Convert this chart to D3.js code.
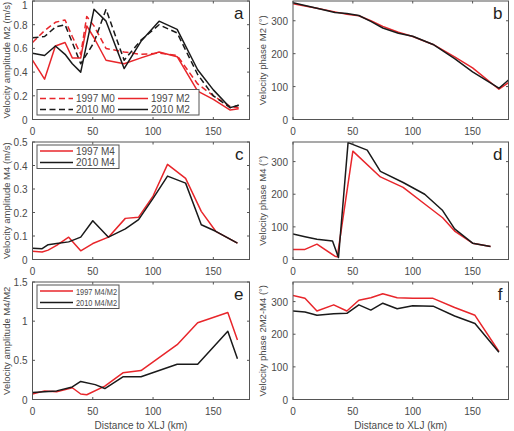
<!DOCTYPE html>
<html>
<head>
<meta charset="utf-8">
<script src="https://cdn.jsdelivr.net/npm/d3@7"></script>
<style>
  body { margin: 0; background: #fff; }
  svg { display: block; font-family: "Liberation Sans", Arial, sans-serif; }
</style>
</head>
<body>
<div id="chart"></div>
<script>
// Six-panel tidal velocity figure (a-f), MATLAB-like styling

// ---- data (distance km, value) ----
const a_M0_1997 = [[0,0.65],[10,0.75],[19,0.82],[27,0.84],[33,0.70],[40,0.55],[45,0.87],[51,0.79],[61,0.60],[76,0.57],[90,0.55],[105,0.56],[120,0.54],[137,0.30],[150,0.20],[164,0.11],[171,0.10]];
const a_M2_1997 = [[0,0.50],[10,0.34],[19,0.62],[27,0.65],[33,0.52],[40,0.52],[45,0.79],[51,0.69],[61,0.50],[76,0.47],[90,0.52],[105,0.57],[120,0.53],[137,0.24],[150,0.17],[164,0.08],[171,0.09]];
const a_M0_2010 = [[0,0.69],[10,0.70],[19,0.78],[27,0.80],[33,0.65],[40,0.47],[51,0.65],[61,0.93],[76,0.50],[90,0.67],[105,0.80],[120,0.73],[137,0.38],[150,0.20],[164,0.10],[171,0.12]];
const a_M2_2010 = [[0,0.56],[10,0.54],[19,0.62],[27,0.55],[33,0.47],[40,0.40],[51,0.93],[61,0.83],[76,0.43],[90,0.66],[105,0.83],[120,0.76],[137,0.42],[150,0.25],[164,0.10],[171,0.12]];

const b_1997 = [[0,352],[20,338],[35,327],[45,320],[55,315],[65,300],[75,283],[88,265],[100,252],[117,228],[135,190],[150,157],[172,92],[180,112]];
const b_2010 = [[0,355],[20,338],[35,325],[45,322],[55,316],[65,298],[75,278],[88,262],[100,253],[117,228],[135,185],[150,145],[172,95],[180,120]];

const c_1997 = [[0,0.035],[8,0.032],[13,0.04],[20,0.06],[30,0.095],[40,0.037],[50,0.068],[63,0.095],[77,0.175],[88,0.18],[100,0.27],[112,0.405],[127,0.345],[140,0.205],[152,0.12],[170,0.07]];
const c_2010 = [[0,0.048],[8,0.046],[13,0.063],[20,0.068],[30,0.075],[40,0.095],[50,0.165],[63,0.095],[77,0.13],[88,0.17],[100,0.26],[112,0.355],[127,0.325],[140,0.148],[152,0.12],[170,0.07]];

const d_1997 = [[0,31],[10,31],[20,47],[35,10],[37,8],[50,332],[73,253],[92,221],[110,170],[125,128],[135,87],[150,50],[165,40]];
const d_2010 = [[0,78],[10,70],[20,62],[33,57],[38,6],[46,358],[62,335],[73,270],[92,236],[110,200],[125,150],[135,94],[150,50],[165,40]];

const e_1997 = [[0,0.07],[10,0.11],[20,0.10],[33,0.15],[40,0.07],[45,0.06],[60,0.17],[75,0.34],[90,0.37],[120,0.70],[137,0.98],[162,1.11],[170,0.76]];
const e_2010 = [[0,0.09],[10,0.10],[20,0.11],[33,0.16],[40,0.23],[52,0.19],[60,0.14],[75,0.29],[90,0.29],[120,0.45],[137,0.45],[162,0.87],[170,0.52]];

const f_1997 = [[0,319],[10,310],[20,271],[34,290],[45,271],[55,304],[65,312],[75,324],[87,312],[100,310],[117,310],[135,282],[152,258],[172,147]];
const f_2010 = [[0,271],[10,268],[20,258],[34,263],[45,264],[55,290],[65,274],[75,295],[87,278],[100,287],[117,286],[135,256],[152,233],[172,145]];

const xTicks = [0, 50, 100, 150];
const RED = '#e8262b', BLACK = '#1a1a1a';
const AXIS = '#555', TXT = '#4a4a4a';

const W = 514, H = 431;
const svg = d3.select('#chart').append('svg').attr('width', W).attr('height', H);

const cols = [{ x0: 32.5, x1: 249.5 }, { x0: 293, x1: 508.5 }];
const rows = [{ y0: 1, y1: 119.5 }, { y0: 142, y1: 259.5 }, { y0: 282, y1: 399.5 }];

const panels = [
  { col: 0, row: 0, letter: 'a', ymax: 1, yTicks: [0, 0.2, 0.4, 0.6, 0.8, 1], ylabel: 'Velocity amplitude M2 (m/s)',
    series: [
      { d: a_M0_1997, c: RED, dash: '6,3.5' }, { d: a_M0_2010, c: BLACK, dash: '6,3.5' },
      { d: a_M2_1997, c: RED }, { d: a_M2_2010, c: BLACK }
    ] },
  { col: 1, row: 0, letter: 'b', ymax: 360, yTicks: [0, 100, 200, 300], ylabel: 'Velocity phase M2 (°)',
    series: [{ d: b_1997, c: RED }, { d: b_2010, c: BLACK }] },
  { col: 0, row: 1, letter: 'c', ymax: 0.5, yTicks: [0, 0.1, 0.2, 0.3, 0.4, 0.5], ylabel: 'Velocity amplitude M4 (m/s)',
    series: [{ d: c_1997, c: RED }, { d: c_2010, c: BLACK }] },
  { col: 1, row: 1, letter: 'd', ymax: 360, yTicks: [0, 100, 200, 300], ylabel: 'Velocity phase M4 (°)',
    series: [{ d: d_1997, c: RED }, { d: d_2010, c: BLACK }] },
  { col: 0, row: 2, letter: 'e', ymax: 1.5, yTicks: [0, 0.5, 1, 1.5], ylabel: 'Velocity amplitude M4/M2', xlabel: true,
    series: [{ d: e_1997, c: RED }, { d: e_2010, c: BLACK }] },
  { col: 1, row: 2, letter: 'f', ymax: 360, yTicks: [0, 100, 200, 300], ylabel: 'Velocity phase 2M2-M4 (°)', xlabel: true,
    series: [{ d: f_1997, c: RED }, { d: f_2010, c: BLACK }] }
];

panels.forEach((p, i) => {
  const c = cols[p.col], r = rows[p.row];
  const x = d3.scaleLinear().domain([0, 180]).range([c.x0, c.x1]);
  const y = d3.scaleLinear().domain([0, p.ymax]).range([r.y1, r.y0]);
  const g = svg.append('g');

  const clipId = 'clip' + i;
  svg.append('clipPath').attr('id', clipId).append('rect')
    .attr('x', c.x0).attr('y', r.y0).attr('width', c.x1 - c.x0).attr('height', r.y1 - r.y0);

  const line = d3.line().x(d => x(d[0])).y(d => y(d[1]));
  const lg = g.append('g').attr('clip-path', `url(#${clipId})`);
  p.series.forEach(s => {
    lg.append('path').attr('d', line(s.d))
      .attr('fill', 'none').attr('stroke', s.c).attr('stroke-width', 1.5)
      .attr('stroke-dasharray', s.dash || null).attr('stroke-linejoin', 'round');
  });

  // box + inward ticks on all four sides
  g.append('rect').attr('x', c.x0).attr('y', r.y0).attr('width', c.x1 - c.x0).attr('height', r.y1 - r.y0)
    .attr('fill', 'none').attr('stroke', AXIS).attr('stroke-width', 1);

  const tl = 2.5;
  xTicks.forEach(t => {
    g.append('line').attr('x1', x(t)).attr('x2', x(t)).attr('y1', r.y1).attr('y2', r.y1 - tl).attr('stroke', AXIS);
    g.append('line').attr('x1', x(t)).attr('x2', x(t)).attr('y1', r.y0).attr('y2', r.y0 + tl).attr('stroke', AXIS);
    g.append('text').attr('x', x(t)).attr('y', r.y1 + 15)
      .attr('text-anchor', 'middle').attr('font-size', 10).attr('fill', TXT).text(t);
  });
  p.yTicks.forEach(t => {
    g.append('line').attr('x1', c.x0).attr('x2', c.x0 + tl).attr('y1', y(t)).attr('y2', y(t)).attr('stroke', AXIS);
    g.append('line').attr('x1', c.x1).attr('x2', c.x1 - tl).attr('y1', y(t)).attr('y2', y(t)).attr('stroke', AXIS);
    g.append('text').attr('x', c.x0 - 5).attr('y', Math.max(y(t) + 4, 8.5))
      .attr('text-anchor', 'end').attr('font-size', 10).attr('fill', TXT).text(t);
  });

  // y label
  const ly = (r.y0 + r.y1) / 2;
  const lx = p.col === 0 ? 10 : 266;
  g.append('text').attr('transform', `translate(${lx},${ly}) rotate(-90)`)
    .attr('text-anchor', 'middle').attr('font-size', 9.5).attr('fill', TXT).text(p.ylabel);

  if (p.xlabel) {
    g.append('text').attr('x', (c.x0 + c.x1) / 2).attr('y', r.y1 + 29)
      .attr('text-anchor', 'middle').attr('font-size', 10).attr('fill', TXT).text('Distance to XLJ (km)');
  }

  // panel letter
  g.append('text').attr('x', c.x1 - 6).attr('y', r.y0 + 18)
    .attr('text-anchor', 'end').attr('font-size', 17).attr('fill', '#222').text(p.letter);
});

// ---- legends ----
function legendBox(x0, y0, w, h) {
  svg.append('rect').attr('x', x0).attr('y', y0).attr('width', w).attr('height', h)
    .attr('fill', '#fff').attr('stroke', AXIS).attr('stroke-width', 1);
}
function legendItem(x0, yy, color, dash, label, lineLen, fit) {
  svg.append('line').attr('x1', x0).attr('x2', x0 + lineLen).attr('y1', yy).attr('y2', yy)
    .attr('stroke', color).attr('stroke-width', 1.5).attr('stroke-dasharray', dash || null);
  const t = svg.append('text').attr('x', x0 + lineLen + 3).attr('y', yy + 3.5)
    .attr('font-size', fit ? 9 : 10).attr('fill', TXT).text(label);
  if (fit) t.attr('textLength', fit).attr('lengthAdjust', 'spacingAndGlyphs');
}

const legA = [
  { label: '1997 M0', c: RED, dash: '6,3.5', col: 0, row: 0 },
  { label: '1997 M2', c: RED, col: 1, row: 0 },
  { label: '2010 M0', c: BLACK, dash: '6,3.5', col: 0, row: 1 },
  { label: '2010 M2', c: BLACK, col: 1, row: 1 }
];
legendBox(37, 89.5, 162, 25.5);
legA.forEach(l => legendItem(l.col === 0 ? 40 : 118, l.row === 0 ? 98.5 : 109.5, l.c, l.dash, l.label, l.col === 0 ? 33 : 30));

const legC = [{ label: '1997 M4', c: RED }, { label: '2010 M4', c: BLACK }];
legendBox(37, 145, 82, 23.5);
legC.forEach((l, i) => legendItem(40, 151 + i * 11.5, l.c, null, l.label, 33));

const legE = [{ label: '1997 M4/M2', c: RED }, { label: '2010 M4/M2', c: BLACK }];
legendBox(37, 285, 82, 23.5);
legE.forEach((l, i) => legendItem(40, 291 + i * 11.5, l.c, null, l.label, 33, 41));
</script>
</body>
</html>
